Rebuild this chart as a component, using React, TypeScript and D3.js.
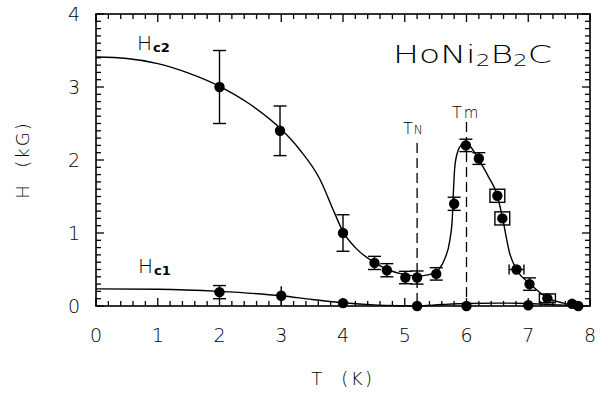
import React from "react";
import * as d3 from "d3";

// Hc2 measured points
const hc2T = [2.0, 2.98, 4.0, 4.51, 4.71, 5.01, 5.2, 5.51, 5.8, 5.99, 6.2, 6.5, 6.58, 6.81, 7.02, 7.31, 7.71, 7.81];
const hc2H = [3.0, 2.4, 1.0, 0.59, 0.49, 0.39, 0.39, 0.44, 1.4, 2.2, 2.02, 1.51, 1.2, 0.5, 0.3, 0.105, 0.03, 0.0];
const hc2YErr = [0.5, 0.34, 0.25, 0.09, 0.09, 0.085, 0.09, 0.085, 0.09, 0.085, 0.08, 0.09, 0.09, 0, 0.085, 0.06, 0, 0];
const hc2XErr = [0, 0, 0, 0, 0, 0, 0, 0, 0, 0, 0, 0.12, 0.12, 0.12, 0, 0.13, 0, 0];
const hc2Box = [false, false, false, false, false, false, false, false, false, false, false, true, true, false, false, true, false, false];

// Hc1 measured points
const hc1T = [2.0, 3.0, 4.0, 5.2, 6.0, 7.0];
const hc1H = [0.19, 0.14, 0.04, 0.0, 0.0, 0.01];
const hc1YErr = [0.09, 0.13, 0, 0, 0, 0];

// Fitted guide curves
const hc2CurveT = [0, 0.5, 1, 1.5, 2, 2.5, 3, 3.3, 3.63, 3.85, 4, 4.2, 4.5, 4.75, 5.0, 5.2, 5.4, 5.55, 5.65, 5.73, 5.77, 5.79, 5.81, 5.86, 5.92, 5.98, 6.05, 6.2, 6.35, 6.5, 6.58, 6.7, 6.81, 7.02, 7.31, 7.57, 7.8];
const hc2CurveH = [3.41, 3.39, 3.32, 3.19, 3.01, 2.76, 2.42, 2.14, 1.73, 1.3, 1.02, 0.8, 0.6, 0.49, 0.43, 0.41, 0.43, 0.5, 0.65, 0.9, 1.2, 1.6, 1.9, 2.12, 2.21, 2.24, 2.2, 2.0, 1.78, 1.51, 1.22, 0.72, 0.5, 0.31, 0.11, 0.04, 0.0];
const hc1CurveT = [0, 1, 2, 3, 3.5, 4, 4.5, 5, 5.2, 5.6, 6, 6.5, 7, 7.5, 7.8];
const hc1CurveH = [0.235, 0.23, 0.2, 0.14, 0.09, 0.045, 0.015, 0.003, 0, 0.02, 0.035, 0.04, 0.035, 0.015, 0];

const xTickLabels = [0, 1, 2, 3, 4, 5, 6, 7, 8];
const yTickLabels = [0, 1, 2, 3, 4];
const TN = 5.2;
const Tm = 6.0;

const FONT = "'DejaVu Sans', 'Liberation Sans', Arial, sans-serif";
const W = 300;

export default function App() {
  const x = d3.scaleLinear().domain([0, 8]).range([96, 590]);
  const y = d3.scaleLinear().domain([0, 4]).range([306, 14]);
  const line = d3
    .line<[number, number]>()
    .x((d) => x(d[0]))
    .y((d) => y(d[1]))
    .curve(d3.curveMonotoneX);

  const hc2Curve = hc2CurveT.map((t, i) => [t, hc2CurveH[i]] as [number, number]);
  const hc1Curve = hc1CurveT.map((t, i) => [t, hc1CurveH[i]] as [number, number]);

  const xMinor = d3.range(0, 40.5, 1).map((v) => v / 5);
  const yMinor = d3.range(0, 40.5, 1).map((v) => v / 10);
  const [x0, x1] = x.range();
  const [y0, y1] = y.range();
  const cap = 6.5;
  const sw = 1.4;

  const errBar = (t: number, h: number, ye: number, xe: number, box: boolean, key: string, caps = true) => {
    const els: React.ReactNode[] = [];
    if (box) {
      els.push(
        <rect key={key + "b"} x={x(t - xe)} y={y(h + ye)} width={x(t + xe) - x(t - xe)} height={y(h - ye) - y(h + ye)} fill="none" stroke="#000" strokeWidth={sw} />
      );
    } else {
      if (ye > 0) {
        els.push(<line key={key + "v"} x1={x(t)} x2={x(t)} y1={y(h + ye)} y2={y(Math.max(0, h - ye))} stroke="#000" strokeWidth={sw} />);
        if (caps) {
          els.push(<line key={key + "ct"} x1={x(t) - cap} x2={x(t) + cap} y1={y(h + ye)} y2={y(h + ye)} stroke="#000" strokeWidth={sw} />);
          els.push(<line key={key + "cb"} x1={x(t) - cap} x2={x(t) + cap} y1={y(h - ye)} y2={y(h - ye)} stroke="#000" strokeWidth={sw} />);
        }
      }
      if (xe > 0) {
        els.push(<line key={key + "h"} x1={x(t - xe)} x2={x(t + xe)} y1={y(h)} y2={y(h)} stroke="#000" strokeWidth={sw} />);
        els.push(<line key={key + "cl"} x1={x(t - xe)} x2={x(t - xe)} y1={y(h) - 5} y2={y(h) + 5} stroke="#000" strokeWidth={sw} />);
        els.push(<line key={key + "cr"} x1={x(t + xe)} x2={x(t + xe)} y1={y(h) - 5} y2={y(h) + 5} stroke="#000" strokeWidth={sw} />);
      }
    }
    return els;
  };

  return (
    <svg width={608} height={400} style={{ position: "absolute", left: 0, top: 0, background: "#fff" }} fontFamily={FONT} fontWeight={W}>
      {/* frame */}
      <rect x={x0} y={y1} width={x1 - x0} height={y0 - y1} fill="none" stroke="#000" strokeWidth={1.6} />
      {xMinor.map((v, i) => {
        const major = Math.abs(v - Math.round(v)) < 1e-6;
        const len = major ? 8 : 5;
        return (
          <g key={"xt" + i}>
            <line x1={x(v)} x2={x(v)} y1={y0} y2={y0 - len} stroke="#000" strokeWidth={1.3} />
            <line x1={x(v)} x2={x(v)} y1={y1} y2={y1 + len} stroke="#000" strokeWidth={1.3} />
          </g>
        );
      })}
      {yMinor.map((v, i) => {
        const major = Math.abs(v - Math.round(v)) < 1e-6;
        const len = major ? 8 : 5;
        return (
          <g key={"yt" + i}>
            <line x1={x0} x2={x0 + len} y1={y(v)} y2={y(v)} stroke="#000" strokeWidth={1.3} />
            <line x1={x1} x2={x1 - len} y1={y(v)} y2={y(v)} stroke="#000" strokeWidth={1.3} />
          </g>
        );
      })}
      {xTickLabels.map((v) => (
        <text key={"xl" + v} x={x(v)} y={342} textAnchor="middle" fontSize={19}>
          {v}
        </text>
      ))}
      {yTickLabels.map((v) => (
        <text key={"yl" + v} x={80} y={y(v) + 7} textAnchor="end" fontSize={19}>
          {v}
        </text>
      ))}
      <text x={(x0 + x1) / 2} y={385} textAnchor="middle" fontSize={18} style={{ whiteSpace: "pre" }} letterSpacing={2.5}>
        {"T  (K)"}
      </text>
      <text transform={`translate(29,${(y0 + y1) / 2}) rotate(-90)`} textAnchor="middle" fontSize={18} style={{ whiteSpace: "pre" }} letterSpacing={2}>
        {"H  (kG)"}
      </text>

      {/* dashed transition lines */}
      <line x1={x(TN)} x2={x(TN)} y1={143} y2={y0} stroke="#000" strokeWidth={1.3} strokeDasharray="10,5" />
      <line x1={x(Tm)} x2={x(Tm)} y1={122} y2={y0} stroke="#000" strokeWidth={1.3} strokeDasharray="10,5" />

      {/* curves */}
      <path d={line(hc2Curve) || ""} fill="none" stroke="#000" strokeWidth={1.4} />
      <path d={line(hc1Curve) || ""} fill="none" stroke="#000" strokeWidth={1.4} />

      {/* error bars */}
      {hc2T.map((t, i) => errBar(t, hc2H[i], hc2YErr[i], hc2XErr[i], hc2Box[i], "e2" + i))}
      {hc1T.map((t, i) => errBar(t, hc1H[i], hc1YErr[i], 0, false, "e1" + i, i === 0))}

      {/* points */}
      {hc2T.map((t, i) => (
        <circle key={"p2" + i} cx={x(t)} cy={y(hc2H[i])} r={5.2} fill="#000" />
      ))}
      {hc1T.map((t, i) => (
        <circle key={"p1" + i} cx={x(t)} cy={y(hc1H[i])} r={5.2} fill="#000" />
      ))}

      {/* labels */}
      <text x={137} y={50} fontSize={20}>
        H<tspan fontSize={13} fontWeight="bold" dy={2} dx={1}>c2</tspan>
      </text>
      <text x={138} y={273} fontSize={20}>
        H<tspan fontSize={13} fontWeight="bold" dy={2} dx={1}>c1</tspan>
      </text>
      <text x={393} y={63} fontSize={24} textLength={159} lengthAdjust="spacingAndGlyphs">
        HoNi<tspan fontSize={16} dy={3}>2</tspan>
        <tspan dy={-3}>B</tspan>
        <tspan fontSize={16} dy={3}>2</tspan>
        <tspan dy={-3}>C</tspan>
      </text>
      <text x={403} y={134} fontSize={16}>
        T<tspan fontSize={12} dx={1}>N</tspan>
      </text>
      <text x={452} y={118} fontSize={16}>
        T<tspan fontSize={15} dx={2} letterSpacing={1}>m</tspan>
      </text>
    </svg>
  );
}
